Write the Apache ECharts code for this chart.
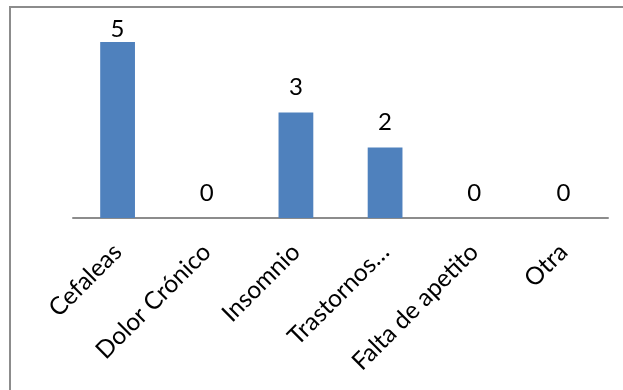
<!DOCTYPE html>
<html>
<head>
<meta charset="utf-8">
<script src="https://cdn.jsdelivr.net/npm/echarts@6/dist/echarts.min.js"></script>
<style>
  html, body { margin: 0; padding: 0; background: #fff; }
  #chart { width: 623px; height: 390px; }
</style>
</head>
<body>
<div id="chart"></div>
<script>
// Motivos de consulta: número de casos por categoría
const categories = ['Cefaleas', 'Dolor Crónico', 'Insomnio', 'Trastornos…', 'Falta de apetito', 'Otra'];
const values = [5, 0, 3, 2, 0, 0];

const chart = echarts.init(document.getElementById('chart'));
const font = 'Lato, "Open Sans", sans-serif';
const maxValue = Math.max(...values);

// The tallest bar reaches the top of the plot, so its label sits closer to it
const barData = values.map(v => ({
  value: v,
  label: { distance: v === maxValue ? 1 : 13 }
}));

chart.setOption({
  animation: false,
  backgroundColor: '#ffffff',
  graphic: [{
    type: 'rect',
    shape: { x: 10, y: 7, width: 640, height: 420 },
    style: { fill: 'none', stroke: '#8c8c8c', lineWidth: 2 },
    z: 0
  }],
  grid: { left: 73, right: 15, top: 42, bottom: 172 },
  xAxis: {
    type: 'category',
    data: categories,
    axisLine: { show: true, lineStyle: { color: '#8c8c8c', width: 2 } },
    axisTick: { show: false },
    axisLabel: {
      rotate: 45,
      interval: 0,
      margin: 30,
      color: '#000',
      fontSize: 24.5,
      fontFamily: font
    }
  },
  yAxis: {
    type: 'value',
    min: 0,
    max: maxValue,
    show: false,
    splitLine: { show: false }
  },
  series: [{
    type: 'bar',
    data: barData,
    barWidth: '39%',
    itemStyle: { color: '#4f81bd' },
    label: {
      show: true,
      position: 'top',
      color: '#000',
      fontSize: 24,
      fontFamily: font
    }
  }]
});
</script>
</body>
</html>
